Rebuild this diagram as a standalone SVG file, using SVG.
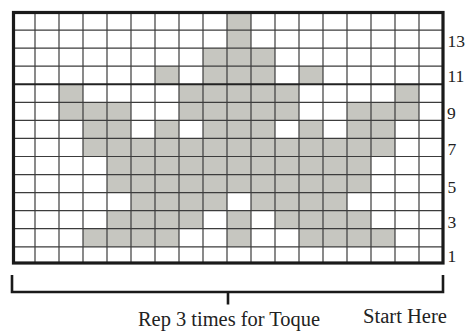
<svg xmlns="http://www.w3.org/2000/svg" width="467" height="331" viewBox="0 0 467 331">
<style>
.sh{fill:#c6c6c0}
.g{stroke:#3c3c3c;stroke-width:1.2;fill:none}
.bd{stroke:#1a1a1a;stroke-width:3.2;fill:none}
.br{stroke:#1a1a1a;stroke-width:2.6;fill:none}
.lb{font-family:"Liberation Serif",serif;font-size:17.5px;fill:#222}
.cap{font-family:"Liberation Serif",serif;font-size:20px;fill:#222}
</style>
<rect x="0" y="0" width="467" height="331" fill="#ffffff"/>
<g id="shaded">
<rect class="sh" x="227" y="12" width="24" height="18.06"/>
<rect class="sh" x="227" y="30.06" width="24" height="18.06"/>
<rect class="sh" x="203" y="48.12" width="72" height="18.06"/>
<rect class="sh" x="155" y="66.18" width="24" height="18.06"/>
<rect class="sh" x="203" y="66.18" width="72" height="18.06"/>
<rect class="sh" x="299" y="66.18" width="24" height="18.06"/>
<rect class="sh" x="59" y="84.24" width="24" height="18.06"/>
<rect class="sh" x="179" y="84.24" width="120" height="18.06"/>
<rect class="sh" x="395" y="84.24" width="24" height="18.06"/>
<rect class="sh" x="59" y="102.3" width="72" height="18.06"/>
<rect class="sh" x="179" y="102.3" width="120" height="18.06"/>
<rect class="sh" x="347" y="102.3" width="72" height="18.06"/>
<rect class="sh" x="83" y="120.36" width="48" height="18.06"/>
<rect class="sh" x="155" y="120.36" width="24" height="18.06"/>
<rect class="sh" x="203" y="120.36" width="72" height="18.06"/>
<rect class="sh" x="299" y="120.36" width="24" height="18.06"/>
<rect class="sh" x="347" y="120.36" width="48" height="18.06"/>
<rect class="sh" x="83" y="138.42" width="312" height="18.06"/>
<rect class="sh" x="107" y="156.48" width="264" height="36.12"/>
<rect class="sh" x="131" y="192.6" width="96" height="18.06"/>
<rect class="sh" x="251" y="192.6" width="96" height="18.06"/>
<rect class="sh" x="107" y="210.66" width="96" height="18.06"/>
<rect class="sh" x="227" y="210.66" width="24" height="18.06"/>
<rect class="sh" x="275" y="210.66" width="96" height="18.06"/>
<rect class="sh" x="83" y="228.72" width="96" height="18.06"/>
<rect class="sh" x="227" y="228.72" width="24" height="18.06"/>
<rect class="sh" x="299" y="228.72" width="96" height="18.06"/>
</g>
<g id="grid">
<path class="g" d="M35,12V264M59,12V264M83,12V264M107,12V264M131,12V264M155,12V264M179,12V264M203,12V264M227,12V264M251,12V264M275,12V264M299,12V264M323,12V264M347,12V264M371,12V264M395,12V264M419,12V264"/>
<path class="g" d="M13,30.06H443M13,48.12H443M13,66.18H443M13,102.3H443M13,120.36H443M13,138.42H443M13,156.48H443M13,174.54H443M13,192.6H443M13,210.66H443M13,228.72H443M13,246.78H443"/>
<path class="g" style="stroke-width:2.2;stroke:#222" d="M13,84.24H443"/>
<rect class="bd" x="13.5" y="12.5" width="429.5" height="250.5"/>
</g>
<g id="row-labels">
<text class="lb" x="447.5" y="46.5">13</text>
<text class="lb" x="447.5" y="82">11</text>
<text class="lb" x="447" y="118.8">9</text>
<text class="lb" x="447.5" y="155">7</text>
<text class="lb" x="447.5" y="193">5</text>
<text class="lb" x="447.5" y="227.5">3</text>
<text class="lb" x="447.5" y="262.3">1</text>
</g>
<g id="connectors">
<path class="br" d="M12,275V292H443V275M228,292V304.5"/>
</g>
<g id="captions">
<text class="cap" x="229" y="326" text-anchor="middle" textLength="182" lengthAdjust="spacingAndGlyphs">Rep 3 times for Toque</text>
<text class="cap" x="363" y="323" textLength="84" lengthAdjust="spacingAndGlyphs">Start Here</text>
</g>
</svg>
